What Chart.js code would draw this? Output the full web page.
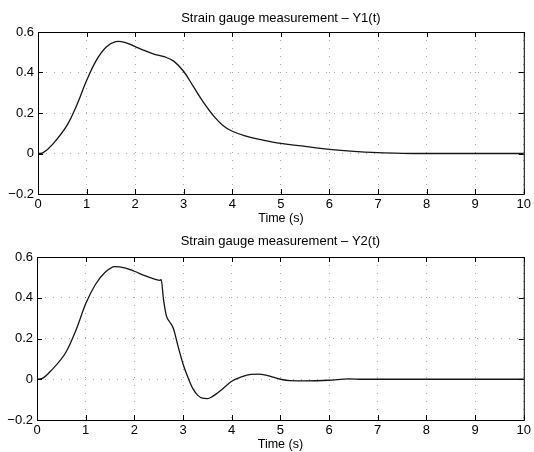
<!DOCTYPE html>
<html>
<head>
<meta charset="utf-8">
<script src="https://cdn.jsdelivr.net/npm/chart.js@4/dist/chart.umd.min.js"></script>
<style>
  html, body { margin: 0; padding: 0; background: #fff; }
  .box { position: absolute; left: 0; width: 534px; height: 226px; }
  #top { top: 0; }
  #bottom { top: 226px; }
</style>
</head>
<body>
<div class="box" id="top"><canvas id="chart1"></canvas></div>
<div class="box" id="bottom"><canvas id="chart2"></canvas></div>
<script>
// Y1(t) readings
const y1Time = [0, 0.1, 0.3, 0.6, 0.8, 1.0, 1.2, 1.4, 1.6, 1.8, 2.0, 2.2, 2.4, 2.6, 2.8, 3.0, 3.2, 3.4, 3.6, 3.8, 4.0, 4.3, 4.6, 5.0, 5.5, 6.0, 6.5, 7.0, 7.5, 8, 10];
const y1Vals = [0, 0.003, 0.045, 0.14, 0.24, 0.36, 0.46, 0.525, 0.552, 0.548, 0.528, 0.508, 0.49, 0.478, 0.455, 0.405, 0.33, 0.255, 0.19, 0.14, 0.11, 0.085, 0.068, 0.05, 0.035, 0.02, 0.01, 0.004, 0.001, 0, 0];

// Y2(t) readings
const y2Time = [0, 0.1, 0.3, 0.6, 0.8, 1.0, 1.2, 1.4, 1.6, 1.8, 2.0, 2.2, 2.4, 2.53, 2.55, 2.6, 2.66, 2.73, 2.8, 2.9, 3.0, 3.1, 3.2, 3.3, 3.4, 3.5, 3.6, 3.8, 4.0, 4.2, 4.4, 4.55, 4.7, 4.85, 5.0, 5.2, 5.5, 6.0, 6.4, 6.7, 7.5, 10];
const y2Vals = [0, 0.003, 0.045, 0.135, 0.24, 0.37, 0.465, 0.525, 0.553, 0.547, 0.53, 0.51, 0.493, 0.485, 0.49, 0.39, 0.31, 0.28, 0.25, 0.16, 0.075, 0.01, -0.045, -0.078, -0.093, -0.095, -0.085, -0.05, -0.01, 0.012, 0.024, 0.025, 0.02, 0.01, 0, -0.007, -0.008, -0.005, 0.002, 0, 0, 0];

const titles = ['Strain gauge measurement \u2013 Y1(t)', 'Strain gauge measurement \u2013 Y2(t)'];
const xLabel = 'Time (s)';
const xTicks = [0, 1, 2, 3, 4, 5, 6, 7, 8, 9, 10];
const yTicks = [-0.2, 0, 0.2, 0.4, 0.6];

const FONT = 'Liberation Sans, Arial, Helvetica, sans-serif';

// small inward tick marks on all four sides, MATLAB style
const innerTicks = {
  id: 'innerTicks',
  afterDraw(chart) {
    const { ctx, chartArea: a, scales: { x, y } } = chart;
    ctx.save();
    ctx.strokeStyle = '#000';
    ctx.lineWidth = 1;
    ctx.beginPath();
    xTicks.forEach(v => {
      const px = Math.round(x.getPixelForValue(v)) + 0.5;
      ctx.moveTo(px, a.bottom); ctx.lineTo(px, a.bottom - 5);
      ctx.moveTo(px, a.top); ctx.lineTo(px, a.top + 5);
    });
    yTicks.forEach(v => {
      const py = Math.round(y.getPixelForValue(v)) + 0.5;
      ctx.moveTo(a.left, py); ctx.lineTo(a.left + 5, py);
      ctx.moveTo(a.right, py); ctx.lineTo(a.right - 5, py);
    });
    ctx.stroke();
    ctx.strokeRect(a.left + 0.5, a.top + 0.5, a.right - a.left, a.bottom - a.top);
    ctx.restore();
  }
};

function makeChart(canvasId, times, vals, title, yAxisWidth, titlePad, smoothing) {
  const points = times.map((t, i) => ({ x: t, y: vals[i] }));
  const ds = {
    data: points,
    borderColor: '#151515',
    borderWidth: 1.3,
    pointRadius: 0,
    fill: false
  };
  if (smoothing === 'monotone') ds.cubicInterpolationMode = 'monotone';
  else ds.tension = smoothing;

  return new Chart(document.getElementById(canvasId), {
    type: 'line',
    data: { datasets: [ds] },
    options: {
      responsive: true,
      maintainAspectRatio: false,
      animation: false,
      layout: { padding: { left: 0, right: 8, top: 0, bottom: 0 } },
      plugins: {
        legend: { display: false },
        tooltip: { enabled: false },
        title: {
          display: true,
          text: title,
          fullSize: false,
          color: '#000',
          font: { family: FONT, size: 13, weight: 'normal' },
          padding: titlePad
        }
      },
      scales: {
        x: {
          type: 'linear',
          min: 0,
          max: 10,
          afterBuildTicks: s => { s.ticks = xTicks.map(v => ({ value: v })); },
          ticks: {
            color: '#000',
            font: { family: FONT, size: 13 },
            padding: 3,
            maxRotation: 0
          },
          grid: { color: 'rgba(0,0,0,0.35)', drawTicks: false },
          border: { display: true, color: '#000', dash: [1, 7] },
          title: {
            display: true,
            text: xLabel,
            color: '#000',
            font: { family: FONT, size: 12.5 },
            padding: { top: 0, bottom: 0 }
          },
          afterFit: s => { s.height = 32; }
        },
        y: {
          min: -0.2,
          max: 0.6,
          afterBuildTicks: s => { s.ticks = yTicks.map(v => ({ value: v })); },
          ticks: {
            color: '#000',
            font: { family: FONT, size: 13 },
            padding: 4,
            callback: v => (Math.abs(v) < 1e-9 ? '0' : String(+v.toFixed(1)).replace('-', '\u2212'))
          },
          grid: { color: 'rgba(0,0,0,0.35)', drawTicks: false },
          border: { display: false, dash: [1, 7] },
          afterFit: s => { s.width = yAxisWidth; }
        }
      }
    },
    plugins: [innerTicks]
  });
}

Chart.defaults.font.family = FONT;
makeChart('chart1', y1Time, y1Vals, titles[0], 38, { top: 11, bottom: 5.4 }, 0.4);
makeChart('chart2', y2Time, y2Vals, titles[1], 37, { top: 8, bottom: 7.4 }, 'monotone');
</script>
</body>
</html>
